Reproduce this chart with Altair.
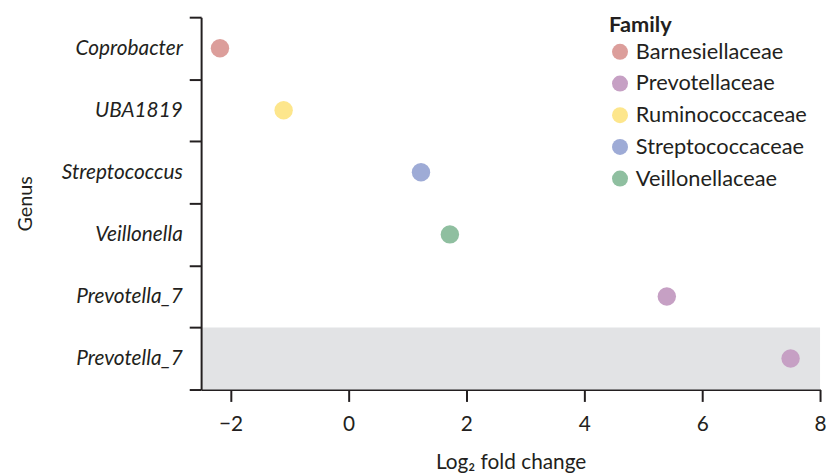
import altair as alt
import pandas as pd

genus_keys = ["Coprobacter", "UBA1819", "Streptococcus", "Veillonella", "Prevotella_7|1", "Prevotella_7|2"]
families = ["Barnesiellaceae", "Ruminococcaceae", "Streptococcaceae", "Veillonellaceae", "Prevotellaceae", "Prevotellaceae"]
log2fc = [-2.18, -1.1, 1.23, 1.72, 5.4, 7.5]
highlighted = [False, False, False, False, False, True]

family_order = ["Barnesiellaceae", "Prevotellaceae", "Ruminococcaceae", "Streptococcaceae", "Veillonellaceae"]
family_colors = ["#dc9e9b", "#c6a0c4", "#fde68c", "#9eabd6", "#8fbfa0"]

df = pd.DataFrame({"genus": genus_keys, "family": families, "lfc": log2fc, "hl": highlighted})

W, H = 625, 376
FONT = "Lato"
INK = "#231f20"

label_expr = "split(datum.label, '|')[0]"

y_enc = alt.Y(
    "genus:N",
    sort=genus_keys,
    title="Genus",
    scale=alt.Scale(domain=genus_keys, paddingInner=0, paddingOuter=0),
    axis=alt.Axis(
        labelExpr=label_expr,
        tickBand="extent",
        labelFontStyle="italic",
        labelFontSize=21,
        labelPadding=7,
        tickSize=12,
        titleFontSize=20,
        titleFontWeight="normal",
        titlePadding=26,
    ),
)

x_scale = alt.Scale(domain=[-2.5, 8], nice=False, zero=False)

band = alt.Chart(df).transform_filter("datum.hl").mark_rect(color="#e2e3e5").encode(
    y=y_enc,
    x=alt.value(0),
    x2=alt.value(W),
)

points = alt.Chart(df).mark_circle(size=346, opacity=1).encode(
    x=alt.X(
        "lfc:Q",
        scale=x_scale,
        title="Log₂ fold change",
        axis=alt.Axis(
            values=[-2, 0, 2, 4, 6, 8],
            labelFontSize=21,
            labelPadding=12,
            tickSize=12,
            titleFontSize=21,
            titleFontWeight="normal",
            titlePadding=18,
            labelFlush=False,
        ),
    ),
    y=y_enc,
    color=alt.Color(
        "family:N",
        scale=alt.Scale(domain=family_order, range=family_colors),
        legend=alt.Legend(
            title="Family",
            orient="none",
            legendX=412,
            legendY=-2,
            titleFontSize=22,
            titleFontWeight="bold",
            labelFontSize=22,
            labelLimit=400,
            symbolType="circle",
            symbolSize=260,
            symbolStrokeWidth=0,
            symbolOpacity=1,
            rowPadding=10,
            labelOffset=5,
            titlePadding=4,
        ),
    ),
)

chart = (
    alt.layer(band, points)
    .properties(
        width=W,
        height=H,
        autosize=alt.AutoSizeParams(type="none"),
        padding={"left": 195, "top": 7, "right": 6, "bottom": 82},
    )
    .configure_view(stroke=None)
    .configure_axis(
        labelFont=FONT,
        titleFont=FONT,
        labelColor=INK,
        titleColor=INK,
        domainColor=INK,
        tickColor=INK,
        domainWidth=2,
        tickWidth=2,
        grid=False,
    )
    .configure_legend(labelFont=FONT, titleFont=FONT, labelColor=INK, titleColor=INK)
)

chart.save("out.html", embed_options={"renderer": "svg", "actions": False})
